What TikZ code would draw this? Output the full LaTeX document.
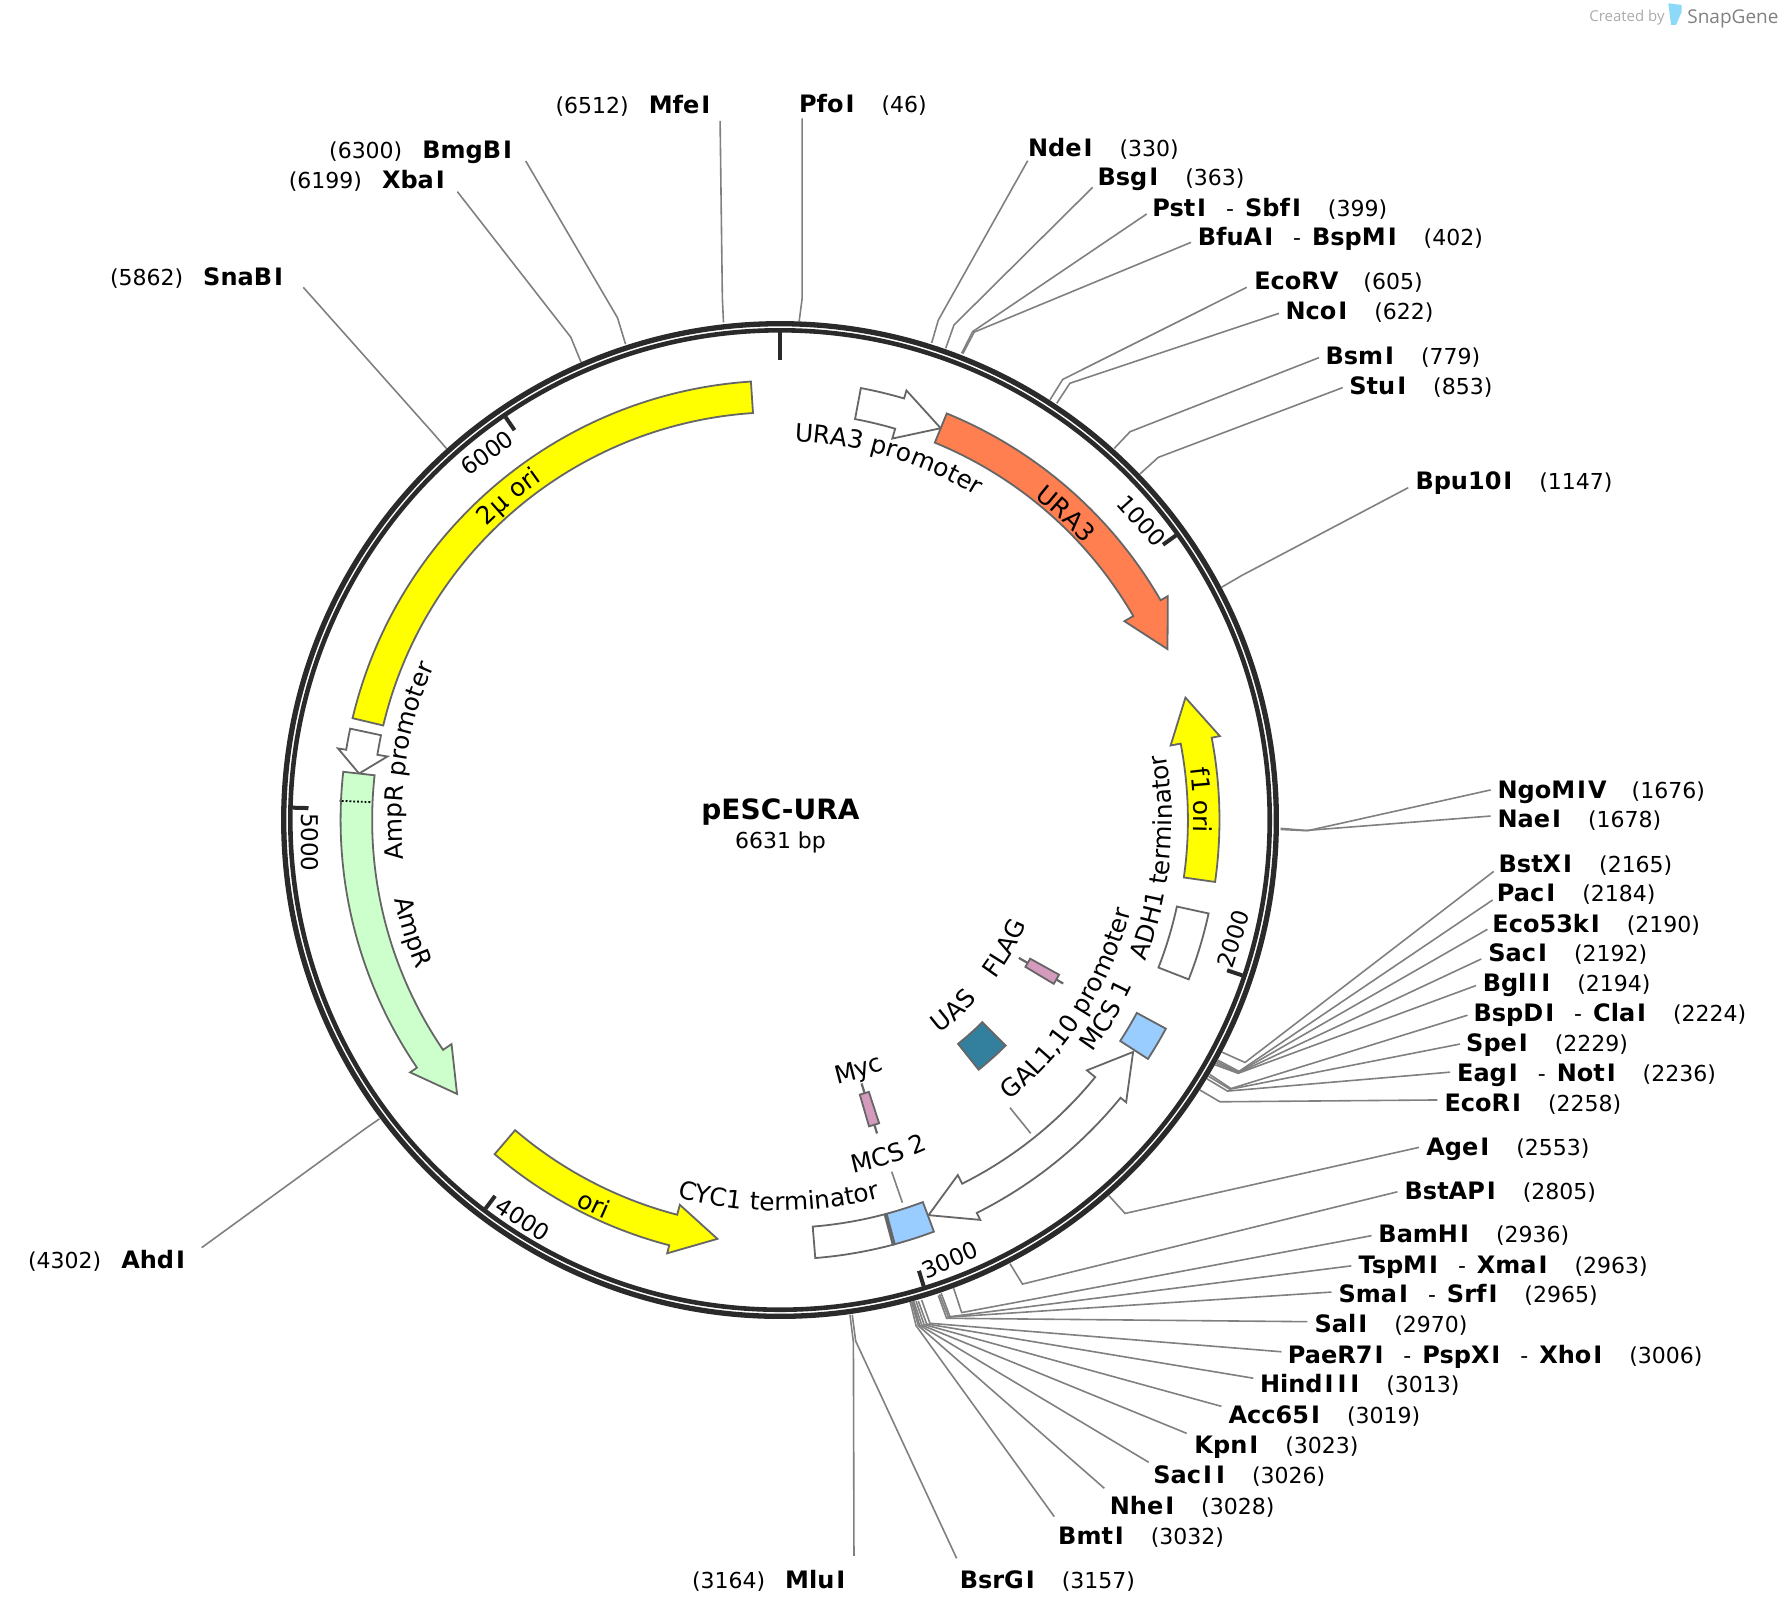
\documentclass[tikz,border=0pt]{standalone}
\usepackage{fontspec}
\setmainfont{DejaVu Sans}
\newfontfamily\logofont{Open Sans}
\usetikzlibrary{calc,positioning,decorations.text}
\definecolor{ringdark}{HTML}{2A2A2A}
\definecolor{linegray}{HTML}{808080}
\definecolor{shapegray}{HTML}{666666}
\definecolor{coral}{HTML}{FF7F50}
\definecolor{oriyellow}{HTML}{FFFF00}
\definecolor{ampgreen}{HTML}{CCFFCC}
\definecolor{mcsblue}{HTML}{99CCFF}
\definecolor{uasteal}{HTML}{33809E}
\definecolor{tagpink}{HTML}{D49BBD}
\newcommand{\sitefont}{\fontsize{11}{13}\selectfont}
\newcommand{\featfont}{\fontsize{12.4}{14}\selectfont}
\def\rsscan#1{\ifx#1\relax\else\ifx#1I\kern1pt I\kern1pt\else#1\fi\expandafter\rsscan\fi}
\newcommand{\rsname}[1]{{\fontsize{12}{14}\selectfont\bfseries\rsscan#1\relax}}
\newcommand{\rsgap}{\hspace{12.5pt}}
\newcommand{\rsleft}{\hspace{10pt}}
\newcommand{\rsdash}{\hspace{9pt}-\hspace{5.5pt}}
\tikzstyle{site} = [anchor=base west, inner sep=0pt, font={\sitefont}]
\tikzstyle{siteleft} = [anchor=base east, inner sep=0pt, font={\sitefont}]
\tikzstyle{cutline} = [draw=linegray, line width=0.8pt]
\tikzstyle{ringline} = [draw=ringdark]
\tikzstyle{tickline} = [draw=ringdark, line width=2pt]
\tikzstyle{ticklbl} = [inner sep=0pt, font={\fontsize{11.5}{13}\selectfont}]
\tikzstyle{part} = [draw=shapegray, line width=0.9pt, miter limit=20]
\tikzstyle{leader} = [draw=linegray, line width=0.8pt]
\newcommand{\cutfrom}[5]{
  \coordinate (c#1) at (#5);
  \path[cutline] ($(l#1.base #2)+(#3)$) -- (#4) -- (c#1);
}
\newcommand{\sector}[5]{
  \path[part, #1] (90-#2:#5) arc[start angle=90-#2, end angle=90-#3, radius=#5]
    -- (90-#3:#4) arc[start angle=90-#3, end angle=90-#2, radius=#4] -- cycle;
}
\newcommand{\gene}[4]{
  \path[part, #1] (90-#2:385.7) arc[start angle=90-#2, end angle=90-#3, radius=385.7]
    -- (90-#3:393) -- (90-#4:371.7) -- (90-#3:349) -- (90-#3:358)
    arc[start angle=90-#3, end angle=90-#2, radius=358] -- cycle;
}
\newcommand{\arctext}[4]{
  \path[decorate, decoration={text along path, text align=center, text={|\featfont|#4}}]
    (90-#1:#3) arc[start angle=90-#1, end angle=90-#2, radius=#3];
}
\begin{document}
\begin{tikzpicture}[x=0.5697pt, y=-0.5697pt]
  \useasboundingbox (0,0) rectangle (1564,1418.3);

  \node[site] (lPfoI)    at (701,99)       {\rsname{PfoI}\rsgap(46)};
  \node[site] (lNdeI)    at (902,137)      {\rsname{NdeI}\rsgap(330)};
  \node[site] (lBsgI)    at (963,163)      {\rsname{BsgI}\rsgap(363)};
  \node[site] (lPstI)    at (1011,189.6)   {\rsname{PstI}\rsdash\rsname{SbfI}\rsgap(399)};
  \node[site] (lBfuAI)   at (1051,215.6)   {\rsname{BfuAI}\rsdash\rsname{BspMI}\rsgap(402)};
  \node[site] (lEcoRV)   at (1100.5,254.5) {\rsname{EcoRV}\rsgap(605)};
  \node[site] (lNcoI)    at (1128,280.8)   {\rsname{NcoI}\rsgap(622)};
  \node[site] (lBsmI)    at (1163,319.8)   {\rsname{BsmI}\rsgap(779)};
  \node[site] (lStuI)    at (1184,345.8)   {\rsname{StuI}\rsgap(853)};
  \node[site] (lBpu10I)  at (1242,430)     {\rsname{Bpu10I}\rsgap(1147)};
  \node[site] (lNgoMIV)  at (1314,700.7)   {\rsname{NgoMIV}\rsgap(1676)};
  \node[site] (lNaeI)    at (1314,726.4)   {\rsname{NaeI}\rsgap(1678)};
  \node[site] (lBstXI)   at (1315,765.4)   {\rsname{BstXI}\rsgap(2165)};
  \node[site] (lPacI)    at (1313.5,791.5) {\rsname{PacI}\rsgap(2184)};
  \node[site] (lEco53kI) at (1309.5,818.1) {\rsname{Eco53kI}\rsgap(2190)};
  \node[site] (lSacI)    at (1306,844.1)   {\rsname{SacI}\rsgap(2192)};
  \node[site] (lBglII)   at (1301,869.8)   {\rsname{BglII}\rsgap(2194)};
  \node[site] (lBspDI)   at (1293,896.5)   {\rsname{BspDI}\rsdash\rsname{ClaI}\rsgap(2224)};
  \node[site] (lSpeI)    at (1286.5,923.1) {\rsname{SpeI}\rsgap(2229)};
  \node[site] (lEagI)    at (1278.5,949.1) {\rsname{EagI}\rsdash\rsname{NotI}\rsgap(2236)};
  \node[site] (lEcoRI)   at (1267.5,975.8) {\rsname{EcoRI}\rsgap(2258)};
  \node[site] (lAgeI)    at (1251.5,1014)  {\rsname{AgeI}\rsgap(2553)};
  \node[site] (lBstAPI)  at (1232.5,1052.6) {\rsname{BstAPI}\rsgap(2805)};
  \node[site] (lBamHI)   at (1209.5,1090.8) {\rsname{BamHI}\rsgap(2936)};
  \node[site] (lTspMI)   at (1192,1117.4)  {\rsname{TspMI}\rsdash\rsname{XmaI}\rsgap(2963)};
  \node[site] (lSmaI)    at (1174.5,1143.5) {\rsname{SmaI}\rsdash\rsname{SrfI}\rsgap(2965)};
  \node[site] (lSalI)    at (1153.5,1169.9) {\rsname{SalI}\rsgap(2970)};
  \node[site] (lPaeR7I)  at (1130,1196.4)  {\rsname{PaeR7I}\rsdash\rsname{PspXI}\rsdash\rsname{XhoI}\rsgap(3006)};
  \node[site] (lHindIII) at (1105.5,1222.5) {\rsname{HindIII}\rsgap(3013)};
  \node[site] (lAcc65I)  at (1078,1249)    {\rsname{Acc65I}\rsgap(3019)};
  \node[site] (lKpnI)    at (1048,1275.7)  {\rsname{KpnI}\rsgap(3023)};
  \node[site] (lSacII)   at (1012,1302)    {\rsname{SacII}\rsgap(3026)};
  \node[site] (lNheI)    at (973.7,1329)   {\rsname{NheI}\rsgap(3028)};
  \node[site] (lBmtI)    at (928.4,1355.4) {\rsname{BmtI}\rsgap(3032)};
  \node[site] (lBsrGI)   at (842,1394)     {\rsname{BsrGI}\rsgap(3157)};
  \node[siteleft] (lMluI)  at (744,1394)   {(3164)\rsleft\rsname{MluI}};
  \node[siteleft] (lAhdI)  at (164.5,1113) {(4302)\rsleft\rsname{AhdI}};
  \node[siteleft] (lSnaBI) at (250.5,251)  {(5862)\rsleft\rsname{SnaBI}};
  \node[siteleft] (lXbaI)  at (392.5,165)  {(6199)\rsleft\rsname{XbaI}};
  \node[siteleft] (lBmgBI) at (451.5,139)  {(6300)\rsleft\rsname{BmgBI}};
  \node[siteleft] (lMfeI)  at (625.5,100)  {(6512)\rsleft\rsname{MfeI}};

  \cutfrom{PfoI}{west}{3,5}{704,262}{701,285}
  \cutfrom{NdeI}{west}{0,4}{823.5,281}{817.7,301}
  \cutfrom{BsgI}{west}{-4,1.4}{837.3,285.2}{830,305.7}
  \cutfrom{PstI}{west}{-4.6,-1.8}{853.7,291}{844,310}
  \cutfrom{BfuAI}{west}{-5.7,-2.9}{855,291.5}{845,310.5}
  \cutfrom{EcoRV}{west}{-6.3,-2.3}{932.7,333}{921.5,351}
  \cutfrom{NcoI}{west}{-5.5,-5.8}{939,336.4}{927.4,354}
  \cutfrom{BsmI}{west}{-5.4,-5.9}{991.8,378.9}{978,393.5}
  \cutfrom{StuI}{west}{-5.6,-5.6}{1016.6,401.4}{1000.5,416}
  \cutfrom{Bpu10I}{west}{-6,-2}{1090,505}{1072,515.5}
  \cutfrom{NgoMIV}{west}{-5.7,-7.4}{1148,729}{1124,727}
  \cutfrom{NaeI}{west}{-5.7,-10.2}{1145,729}{1124,728}
  \cutfrom{BstXI}{west}{-4,-0.6}{1092.7,932.5}{1071.6,923}
  \cutfrom{PacI}{west}{-3.5,-1.6}{1087.4,940.3}{1067,929.5}
  \cutfrom{Eco53kI}{west}{-4,-2.5}{1087,941}{1066.4,931}
  \cutfrom{SacI}{west}{-6,-2.4}{1087,941.5}{1065.5,932.5}
  \cutfrom{BglII}{west}{-5.6,-4.8}{1086.7,942}{1064.6,933.9}
  \cutfrom{BspDI}{west}{-5,-5.5}{1080.4,955.4}{1059.8,941.7}
  \cutfrom{SpeI}{west}{-5.1,-6.8}{1079.5,956}{1058.9,943.5}
  \cutfrom{EagI}{west}{-5.9,-8.1}{1077.3,957.6}{1058.9,946.6}
  \cutfrom{EcoRI}{west}{-5.9,-10.4}{1070.7,967}{1053,956.6}
  \cutfrom{AgeI}{west}{-6.1,-7}{987.4,1065}{973.3,1049.4}
  \cutfrom{BstAPI}{west}{-6,-6.6}{897.4,1127}{886.4,1109}
  \cutfrom{BamHI}{west}{-5.8,-6.3}{844,1152}{836.7,1129.8}
  \cutfrom{TspMI}{west}{-6,-6.4}{833.8,1155.6}{826,1135}
  \cutfrom{SmaI}{west}{-5.9,-9.5}{832.4,1156}{824.6,1136}
  \cutfrom{SalI}{west}{-6,-9.9}{830.8,1157}{823.5,1137}
  \cutfrom{PaeR7I}{west}{-5.3,-10}{816.2,1161.4}{808.9,1141}
  \cutfrom{HindIII}{west}{-5.5,-12.9}{813.3,1162}{806,1142}
  \cutfrom{Acc65I}{west}{-6,-14.7}{811,1162.5}{804,1142}
  \cutfrom{KpnI}{west}{-6.5,-17.7}{809,1163}{802,1142}
  \cutfrom{SacII}{west}{-3.8,-18.6}{807,1163}{801,1142}
  \cutfrom{NheI}{west}{-4.5,-22.8}{806,1163.5}{800,1142}
  \cutfrom{BmtI}{west}{-3.1,-24.3}{804,1163.5}{798.6,1141.5}
  \cutfrom{BsrGI}{west}{-2.4,-26.3}{751,1177}{748,1154}
  \cutfrom{MluI}{east}{5.5,-28.4}{749,1178}{746,1154}
  \cutfrom{AhdI}{east}{12.5,-18}{320,991}{333,982}
  \cutfrom{SnaBI}{east}{15.7,1.2}{380,380}{393,395}
  \cutfrom{XbaI}{east}{8.9,3.2}{501,296}{510,318}
  \cutfrom{BmgBI}{east}{9.9,2.3}{542,279}{549,302}
  \cutfrom{MfeI}{east}{6.5,6}{634,262}{635,283}

  \begin{scope}[shift={(684.6,719.7)}, x=0.5697pt, y=0.5697pt]
    \fill[white] (0,0) circle (438);
    \draw[ringline, line width=2.65pt] (0,0) circle (435.6);
    \draw[ringline, line width=2.3pt]  (0,0) circle (429.8);

    \draw[tickline] (90:428)       -- (90:403.7);
    \draw[tickline] (90-54.29:428) -- (90-54.29:414);
    \draw[tickline] (90-108.58:428) -- (90-108.58:414);
    \draw[tickline] (90-162.87:428) -- (90-162.87:414);
    \draw[tickline] (90-217.16:428) -- (90-217.16:414);
    \draw[tickline] (90-271.45:428) -- (90-271.45:414);
    \draw[tickline] (90-325.74:428) -- (90-325.74:414);

    \gene{fill=white}{10.6}{16.4}{22.3}
    \gene{fill=coral}{22.3}{60}{66.2}
    \sector{fill=oriyellow}{283.4}{356.2}{358}{385.7}
    \gene{fill=white}{282}{279.2}{276.3}
    \gene{fill=ampgreen}{276.3}{235.7}{229.7}
    \path[draw=black, line width=0.9pt, densely dotted] (90-272.5:360) -- (90-272.5:387);
    \gene{fill=oriyellow}{220.5}{194.6}{188.5}
    \gene{fill=oriyellow}{98.1}{79.2}{73.2}
    \sector{fill=white}{102.3}{111.3}{356.5}{385}
    \sector{fill=white}{165}{175.4}{358}{385.7}
    \path[part, fill=white] (90-129.2:385.7) arc[start angle=90-129.2, end angle=90-153.4, radius=385.7]
      -- (90-153.4:392.5) -- (90-159.4:370.5) -- (90-153.4:348.5) -- (90-153.4:357)
      arc[start angle=90-153.4, end angle=90-129.2, radius=357]
      -- (90-129.2:347.6) -- (90-123.3:370.8) -- (90-129.2:392) -- cycle;
    \sector{fill=mcsblue}{118.4}{123}{356}{385}
    \sector{fill=mcsblue}{159.5}{165}{358}{385.7}
    \draw[draw=shapegray, line width=2pt] (90-165:358) -- (90-165:385.7);
    \sector{fill=uasteal}{135}{141.5}{251}{280}
    \draw[draw=shapegray, line width=1.1pt] (90-120:242) -- (90-120:287);
    \sector{fill=tagpink}{119}{120.9}{251}{280}
    \draw[draw=shapegray, line width=1.1pt] (90-162.8:242) -- (90-162.8:288);
    \sector{fill=tagpink}{161.9}{163.8}{251}{280}

    \arctext{-1}{34.4}{332.5}{URA3 promoter}
    \arctext{30}{56}{360.5}{URA3}
    \arctext{305}{335}{364}{2µ ori}
    \arctext{260}{298}{332}{AmpR promoter}
    \arctext{265}{241}{345}{AmpR}
    \arctext{218.3}{193.3}{382.5}{ori}
    \arctext{200}{160.4}{343}{CYC1 terminator}
    \arctext{75}{99.6}{363}{f1 ori}
    \arctext{116}{75.4}{344}{ADH1 terminator}
    \arctext{145}{100.2}{318}{GAL1,10 promoter}
    \arctext{130}{111.8}{342}{MCS 1}
    \arctext{172}{152}{317}{MCS 2}
    \arctext{151.3}{124.1}{234}{UAS}
    \arctext{133.3}{106.1}{235}{FLAG}
    \arctext{175}{150}{237}{Myc}
  \end{scope}

  \coordinate (gTop) at (886.4,972.2);
  \coordinate (gEnd) at (904.6,994.7);
  \coordinate (mTop) at (782.6,1028.3);
  \coordinate (mEnd) at (792,1055.5);
  \path[leader] (gTop) -- (gEnd);
  \path[leader] (mTop) -- (mEnd);

  \node[ticklbl, rotate=-48] (t1000) at (1002,457)   {1000};
  \node[ticklbl, rotate=72]  (t2000) at (1082.6,824)   {2000};
  \node[ticklbl, rotate=23]  (t3000) at (833.8,1105.8) {3000};
  \node[ticklbl, rotate=-33] (t4000) at (459,1070)     {4000};
  \node[ticklbl, rotate=-90] (t5000) at (272,739.3)    {5000};
  \node[ticklbl, rotate=36]  (t6000) at (427.5,397.5)  {6000};

  \node[inner sep=0pt, font={\fontsize{14}{16}\selectfont\bfseries}] (title) at (685,713) {pESC-URA};
  \node[inner sep=0pt, font={\sitefont}] (size) [below of=title, node distance=14.8pt] {6631 bp};

  \node[anchor=base west, inner sep=0pt, text=black!33, font={\logofont\fontsize{7.5}{9}\selectfont}] (lCreated) at (1394.6,18.5) {Created by};
  \node[anchor=base west, inner sep=0pt, text=linegray, font={\logofont\fontsize{9.5}{11}\selectfont}] (lSnapGene) at (1480.6,20.5) {SnapGene};
  \fill[cyan!45] (1464.2,2.9) -- (1476,4.4) -- (1476,10.3) -- (1471,21.9) -- (1466.6,21.9) -- cycle;
\end{tikzpicture}
\end{document}
